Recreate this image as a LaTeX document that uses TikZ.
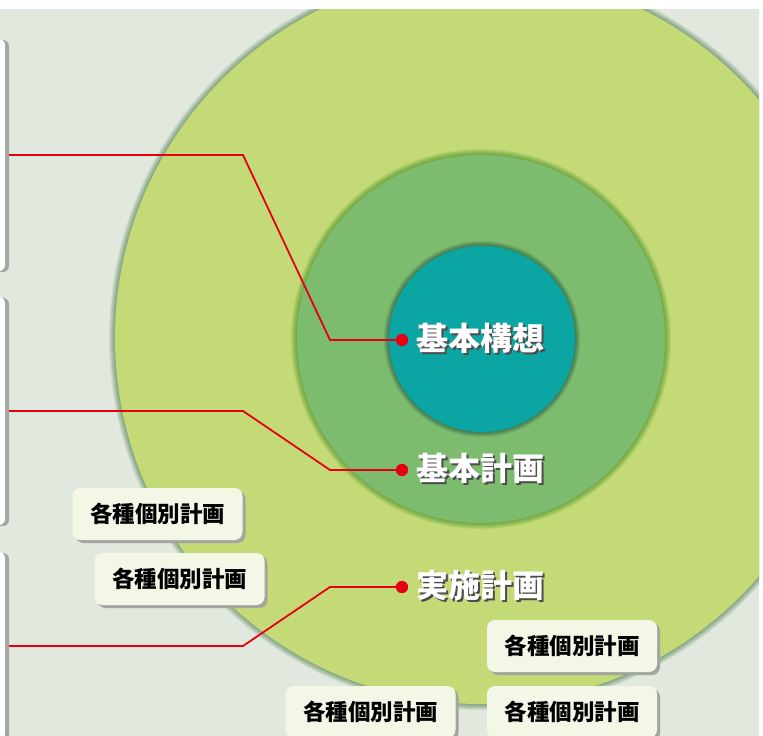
\documentclass[tikz,border=0pt]{standalone}
\usepackage{fontspec}
\newfontfamily\cjk{Noto Sans CJK JP}
\usetikzlibrary{shadows}
\definecolor{panel}{HTML}{E1E8DE}
\definecolor{outerc}{HTML}{C3DA76}
\definecolor{midc}{HTML}{7DBB6E}
\definecolor{innerc}{HTML}{0BA5A3}
\definecolor{redc}{HTML}{E60012}
\definecolor{cream}{HTML}{F4F7E6}
\definecolor{shadowc}{HTML}{A3A69E}
\newcommand{\shtext}[1]{\rlap{\hspace{2pt}\raisebox{-2pt}{\color{black!70}#1}}#1}
\begin{document}
\begin{tikzpicture}[x=1pt,y=-1pt,
  leftbox/.style={draw=none, fill=white, rounded corners=6pt, minimum width=60pt, inner sep=0pt,
    copy shadow={shadow xshift=4pt, shadow yshift=-1pt, fill=shadowc, draw=none}},
  smallbox/.style={fill=cream, rounded corners=8pt, minimum width=170pt, minimum height=52pt, inner sep=0pt,
    copy shadow={shadow xshift=3pt, shadow yshift=-3pt, fill=shadowc, draw=none},
    font=\cjk\bfseries\fontsize{22.5}{22.5}\selectfont},
  lbl/.style={anchor=west, inner sep=0pt, text=white, font=\cjk\bfseries\fontsize{32}{32}\selectfont},
  dot/.style={circle, fill=redc, minimum size=12pt, inner sep=0pt},
  link/.style={draw=redc, line width=1.8pt}]
\useasboundingbox (0,0) rectangle (763,736);
\fill[white] (0,0) rectangle (763,736);
\fill[panel] (0,9) rectangle (759,736);
\begin{scope}
  \clip (0,9) rectangle (759,736);
  % outer circle with soft glow
  \foreach \i in {6,5,4,3,2,1} {\fill[black!50!green!60!black, opacity=0.08] (481,338) circle (366+\i);}
  \fill[outerc] (481,338) circle (366);
  % middle circle
  \foreach \i in {6,5,4,3,2,1} {\fill[black!60!green, opacity=0.08] (481,339) circle (184+\i);}
  \fill[midc] (481,339) circle (184);
  % inner circle
  \foreach \i in {5,4,3,2,1} {\fill[black!60!teal, opacity=0.1] (482,339) circle (93+\i);}
  \fill[innerc] (482,339) circle (93);
  % left boxes
  \node[leftbox, minimum height=232pt] (lb1) at (-25,155) {};
  \node[leftbox, minimum height=228pt] (lb2) at (-25,411) {};
  \node[leftbox, minimum height=188pt] (lb3) at (-25,646) {};
  % small boxes
  \node[smallbox] (s1) at (157.5,514) {各種個別計画};
  \node[smallbox] (s2) at (179.5,579) {各種個別計画};
  \node[smallbox] (s3) at (572,646) {各種個別計画};
  \node[smallbox] (s4) at (370.5,712) {各種個別計画};
  \node[smallbox] (s5) at (572,712) {各種個別計画};
\end{scope}
% dots
\node[dot] (d1) at (402,340) {};
\node[dot] (d2) at (402,470) {};
\node[dot] (d3) at (402,587) {};
% connectors
\draw[link] ([xshift=4pt]lb1.east) -- (243,155) -- (330,340) -- (d1.center);
\draw[link] ([xshift=4pt]lb2.east) -- (243,411) -- (330,470) -- (d2.center);
\draw[link] ([xshift=4pt]lb3.east) -- (243,646) -- (330,587) -- (d3.center);
\node[dot] at (d1) {};
\node[dot] at (d2) {};
\node[dot] at (d3) {};
% labels
\node[lbl] (t1) at (416,339.5) {\shtext{基本構想}};
\node[lbl] (t2) at (416,469.5) {\shtext{基本計画}};
\node[lbl] (t3) at (416,586.5) {\shtext{実施計画}};
\end{tikzpicture}
\end{document}
